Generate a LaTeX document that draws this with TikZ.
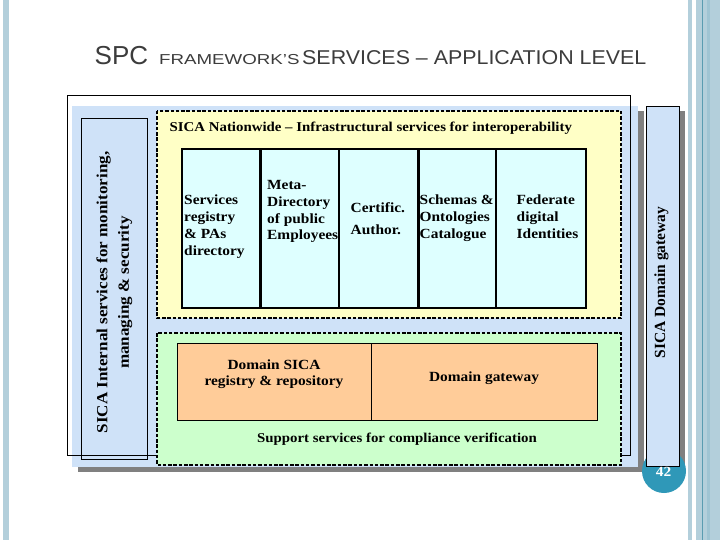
\documentclass[tikz,border=0pt]{standalone}
\usepackage{fontspec}
\setmainfont{Liberation Serif}
\newfontfamily\cam[FakeStretch=1.1]{Liberation Serif}
\newfontfamily\camn{Liberation Serif}
\newfontfamily\tsans{Liberation Sans}
\newfontfamily\tsanswide[FakeStretch=1.3]{Liberation Sans}
\newfontfamily\tsansmid[FakeStretch=1.07]{Liberation Sans}
\definecolor{sidebar}{HTML}{B3CFDB}
\definecolor{sidebardark}{HTML}{9FC4D3}
\definecolor{sideline}{HTML}{5A9CB1}
\definecolor{panelblue}{HTML}{CFE2F8}
\definecolor{shadowgray}{HTML}{808080}
\definecolor{yellowfill}{HTML}{FFFFC6}
\definecolor{cyanfill}{HTML}{DEFFFF}
\definecolor{greenfill}{HTML}{CCFFCC}
\definecolor{orangefill}{HTML}{FFCC99}
\definecolor{circleblue}{HTML}{2F98B8}
\definecolor{titlegray}{HTML}{3C3C3C}
\newcommand\lftlines[1]{\begin{tabular}[t]{@{}l@{}}#1\end{tabular}}
\newcommand\ctrlines[1]{\begin{tabular}[t]{@{}c@{}}#1\end{tabular}}
\begin{document}
\begin{tikzpicture}[x=1pt,y=-1pt,
  dashbox/.style={draw=black, line width=1.5pt, dash pattern=on 3.5pt off 1.8pt},
  colbox/.style={draw=black, line width=1.1pt, fill=cyanfill},
  orangebox/.style={draw=black, line width=1pt, fill=orangefill},
  thinbox/.style={draw=black, line width=0.9pt, fill=panelblue},
  txt/.style={inner sep=0pt, text=black},
  coltext/.style={txt, anchor=base west, font=\cam\bfseries\fontsize{14}{16.7}\selectfont},
  title/.style={inner sep=0pt, anchor=base west, text=titlegray}]
\useasboundingbox (0,0) rectangle (720,540);
\fill[white] (0,0) rectangle (720,540);
% side decoration
\fill[sidebar] (3,0) rectangle (9,540);
\fill[sidebar] (688,0) rectangle (692,540);
\fill[sidebar] (696,0) rectangle (720,540);
\fill[sidebardark] (706.5,0) rectangle (710,540);
\fill[sideline] (701.8,0) rectangle (702.9,540);
% title
\node[title, font=\tsans\fontsize{26}{30}\selectfont] (t1) at (94.5,64.3) {SPC};
\node[title, font=\tsanswide\fontsize{14.4}{17}\selectfont] (t2) at (159,64.3) {FRAMEWORK’S};
\node[title, font=\tsansmid\fontsize{20}{24}\selectfont] (t3) at (302,64.3) {SERVICES – APPLICATION LEVEL};
% main panel
\fill[shadowgray] (78,111) rectangle (644,472);
\fill[panelblue] (72,106) rectangle (638,467);
\draw[thinbox] (81,118) rectangle (147,459);
\draw[black, line width=0.9pt] (67,95) rectangle (630,455);
\draw[dashbox, fill=yellowfill] (157,111) rectangle (621,318);
\draw[dashbox, fill=greenfill] (157,333) rectangle (621,465);
% columns
\draw[colbox] (182,149) rectangle (259.5,308);
\draw[colbox] (261,149) rectangle (339,308);
\draw[colbox] (339,149) rectangle (417.5,308);
\draw[colbox] (419,149) rectangle (496,308);
\draw[colbox] (496,149) rectangle (586,308);
% orange boxes
\draw[orangebox] (177,343) rectangle (371,420);
\draw[orangebox] (371,343) rectangle (597,420);
% gateway bar
\fill[shadowgray] (652,111) rectangle (685,471);
\fill[circleblue] (664,471) circle (22pt);
\draw[thinbox] (646,106) rectangle (679,466);
\node[txt, text=white, font=\cam\bfseries\fontsize{14}{16}\selectfont] (pg) at (663.5,472) {42};
% texts
\node[txt, anchor=base west, font=\cam\bfseries\fontsize{13.5}{16}\selectfont] (hdr) at (169.5,132)
  {SICA Nationwide – Infrastructural services for interoperability};
\node[coltext] (c1) at (184,205) {\lftlines{Services\\registry\\\& PAs\\directory}};
\node[coltext] (c2) at (267,189.7) {\lftlines{Meta-\\Directory\\of public\\Employees}};
\node[coltext, font=\cam\bfseries\fontsize{14}{22}\selectfont] (c3) at (350.5,213) {\lftlines{Certific.\\Author.}};
\node[coltext] (c4) at (419.5,205) {\lftlines{Schemas \&\\Ontologies\\Catalogue}};
\node[coltext] (c5) at (516.5,205) {\lftlines{Federate\\digital\\Identities}};
\node[txt, anchor=base, font=\cam\bfseries\fontsize{14}{16.7}\selectfont] (o1) at (274,369)
  {\ctrlines{Domain SICA\\registry \& repository}};
\node[txt, anchor=base, font=\cam\bfseries\fontsize{14}{16.7}\selectfont] (o2) at (484,381.7) {Domain gateway};
\node[txt, anchor=base, font=\cam\bfseries\fontsize{13.5}{16}\selectfont] (sup) at (397,442.7)
  {Support services for compliance verification};
\node[txt, anchor=base, rotate=90, font=\cam\bfseries\fontsize{15.5}{21.5}\selectfont] (lft) at (107.3,292.5)
  {\ctrlines{SICA Internal services for monitoring,\\managing \& security}};
\node[txt, anchor=base, rotate=90, font=\camn\bfseries\fontsize{15.5}{17}\selectfont] (rgt) at (665,282.4)
  {SICA Domain gateway};
\end{tikzpicture}
\end{document}
